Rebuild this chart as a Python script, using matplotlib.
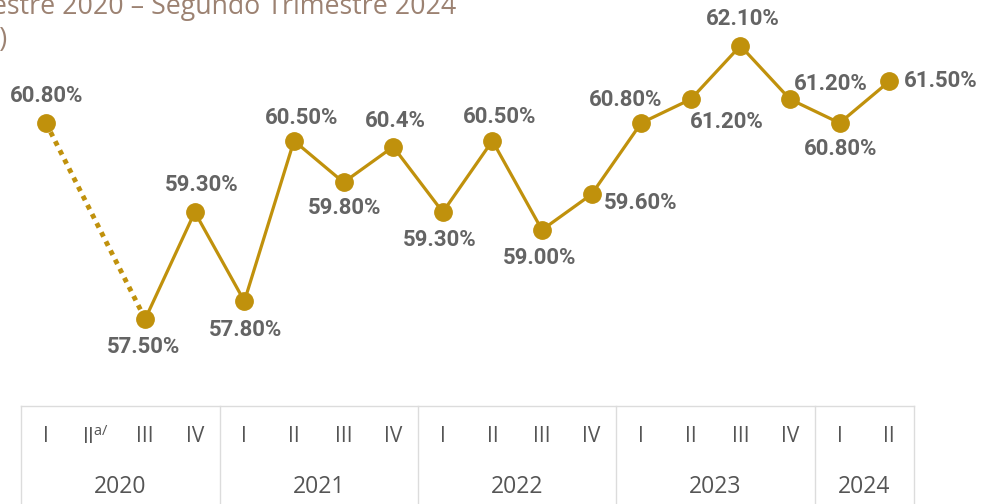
import numpy as np
import matplotlib
matplotlib.use('Agg')
import matplotlib.pyplot as plt

# Data
years = ['2020', '2021', '2022', '2023', '2024']
quarters = ['I', 'II$^{\\mathregular{a/}}$', 'III', 'IV',
            'I', 'II', 'III', 'IV',
            'I', 'II', 'III', 'IV',
            'I', 'II', 'III', 'IV',
            'I', 'II']
quarters_per_year = [4, 4, 4, 4, 2]
values = [60.8, np.nan, 57.5, 59.3,
          57.8, 60.5, 59.8, 60.4,
          59.3, 60.5, 59.0, 59.6,
          60.8, 61.2, 62.1, 61.2,
          60.8, 61.5]
labels = ['60.80%', '', '57.50%', '59.30%',
          '57.80%', '60.50%', '59.80%', '60.4%',
          '59.30%', '60.50%', '59.00%', '59.60%',
          '60.80%', '61.20%', '62.10%', '61.20%',
          '60.80%', '61.50%']
# label offsets in pixels (dx, dy) relative to the point
offsets = [(1, 27), None, (-2, -28), (7, 27),
           (1, -29), (8, 23), (1, -26), (2, 26),
           (-3, -28), (7, 24), (-2, -28), (49, -9),
           (-16, 23), (36, -23), (2, 27), (41, 15),
           (1, -26), (52, 0)]

gold = '#C0910C'
grey = '#646464'

fig = plt.figure(figsize=(9.82, 5.04), dpi=100)
ax = fig.add_axes([0, 0, 1, 1])
ax.axis('off')

x0, dx = 46, 49.6          # pixel of first quarter, pixel per quarter
y0, dy = 123, 59.4         # pixel of 60.8, pixel per unit
ax.set_xlim(-x0 / dx, (982 - x0) / dx)
ax.set_ylim(60.8 - (504 - y0) / dy, 60.8 + y0 / dy)

def py(p):
    # pixel row (from top) -> data y
    return 60.8 + (y0 - p) / dy

x = np.arange(len(values))
v = np.array(values)

# dotted segment across the missing quarter
ax.plot([0, 2], [v[0], v[2]], color=gold, lw=3.5, ls=(0, (1, 1.1)), zorder=2)
ax.plot(x[2:], v[2:], color=gold, lw=2.3, zorder=2)
ax.plot(x[~np.isnan(v)], v[~np.isnan(v)], 'o', color=gold, ms=12.5, zorder=3)

for i in range(len(values)):
    if offsets[i] is None:
        continue
    ox, oy = offsets[i]
    ax.annotate(labels[i], (x[i], v[i]), xytext=(ox * 0.72, oy * 0.72),
                textcoords='offset points', ha='center', va='center',
                fontsize=16, fontweight='bold', color=grey, family='Roboto')

# table below the chart
line_c = '#dcdcdc'
top = py(406)
bot = py(510)
edges = np.cumsum([0] + quarters_per_year) - 0.5
ax.plot([edges[0], edges[-1]], [top, top], color=line_c, lw=1, clip_on=False)
for e in edges:
    ax.plot([e, e], [top, bot], color=line_c, lw=1, clip_on=False)
for i, q in enumerate(quarters):
    ax.text(x[i], py(437), q, ha='center', va='center', fontsize=15,
            color='#555555', family='Open Sans')
for k, yr in enumerate(years):
    ax.text((edges[k] + edges[k + 1]) / 2, py(487), yr, ha='center', va='center',
            fontsize=16.5, color='#555555', family='Open Sans')

# title (cut off on the left in the reference)
fig.text(456 / 982, 0.987, 'Primer Trimestre 2020 – Segundo Trimestre 2024', ha='right', va='center',
         fontsize=19.3, color='#9C8272', family='Open Sans')
fig.text(8 / 982, 0.921, '(%)', ha='right', va='center',
         fontsize=19.3, color='#9C8272', family='Open Sans')

fig.savefig('out.png', dpi=100)
